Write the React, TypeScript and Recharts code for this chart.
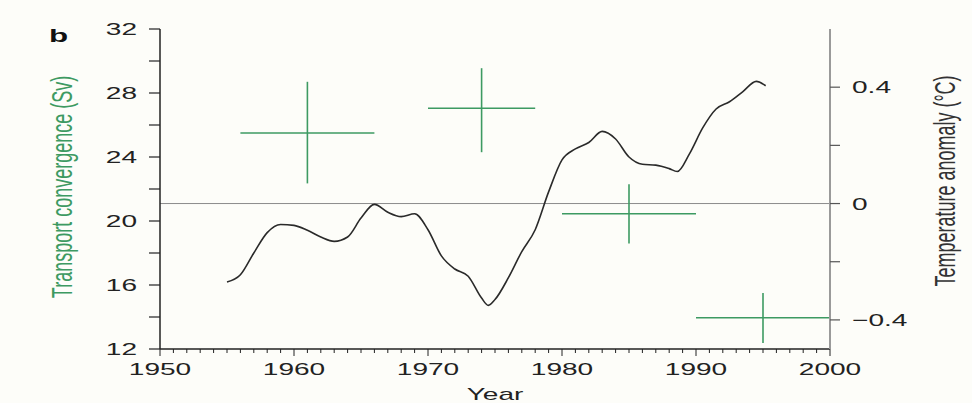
import {
  ComposedChart,
  ErrorBar,
  Line,
  ReferenceLine,
  Scatter,
  XAxis,
  YAxis,
} from "recharts";

// smoothed temperature anomaly (°C), right axis
const years = [
  1955, 1956, 1957, 1958, 1959, 1960, 1961, 1962, 1963, 1964, 1965, 1966, 1967, 1968, 1969, 1970,
  1971, 1972, 1973, 1974, 1974.5, 1975, 1976, 1977, 1978, 1979, 1980, 1981, 1982, 1983, 1984, 1985,
  1986, 1987, 1988, 1988.6, 1989.5, 1990.5, 1991.5, 1992.5, 1993.5, 1994.5, 1995.2,
];
const anomaly = [
  -0.27, -0.245, -0.17, -0.1, -0.072, -0.075, -0.092, -0.115, -0.13, -0.115, -0.05, -0.003, -0.03,
  -0.045, -0.035, -0.09, -0.18, -0.225, -0.25, -0.325, -0.35, -0.33, -0.255, -0.165, -0.09, 0.04,
  0.15, 0.188, 0.21, 0.248, 0.222, 0.16, 0.135, 0.132, 0.12, 0.11, 0.17, 0.26, 0.325, 0.35, 0.385,
  0.42, 0.405,
];

// transport convergence estimates (Sv), left axis, drawn as crosses
const crossYear = [1961, 1974, 1985, 1995];
const crossTransport = [25.5, 27.05, 20.45, 13.95];
const crossYearMinus = [5, 4, 5, 5];
const crossYearPlus = [5, 4, 5, 5];
const crossTransportMinus = [3.15, 2.75, 1.85, 1.575];
const crossTransportPlus = [3.2, 2.5, 1.85, 1.55];

const decadeTicks = [1950, 1960, 1970, 1980, 1990, 2000];
const yearTicks = Array.from({ length: 51 }, (_, i) => 1950 + i);
const transportTicks = [12, 14, 16, 18, 20, 22, 24, 26, 28, 30, 32];
const transportLabels = [12, 16, 20, 24, 28, 32];
const anomalyTicks = [-0.4, -0.2, 0, 0.2, 0.4];
const anomalyLabels: Record<string, string> = { "-0.4": "\u22120.4", "0": "0", "0.4": "0.4" };

const lineData = years.map((year, i) => ({ year, anomaly: anomaly[i] }));
const crossData = crossYear.map((year, i) => ({
  year,
  transport: crossTransport[i],
  ex: [crossYearMinus[i], crossYearPlus[i]],
  ey: [crossTransportMinus[i], crossTransportPlus[i]],
}));

const FONT = "'Liberation Sans', Arial, sans-serif";
const STRETCH = 1.65;
const INK = "#222";
const GREEN = "#3d9a62";

function BottomTick({ x, y, payload }: any) {
  const v = payload.value;
  const major = decadeTicks.includes(v);
  return (
    <g>
      <line x1={x} x2={x} y1={y} y2={y + (major ? 7 : 4)} stroke={INK} strokeWidth={1} />
      {major && (
        <text
          transform={`translate(${x},${y + 26}) scale(${STRETCH},1)`}
          textAnchor="middle"
          fontSize={17}
          fontFamily={FONT}
          fill={INK}
        >
          {v}
        </text>
      )}
    </g>
  );
}

function TopTick({ x, y, payload }: any) {
  const major = decadeTicks.includes(payload.value);
  return <line x1={x} x2={x} y1={y} y2={y - (major ? 6 : 3)} stroke={INK} strokeWidth={1} />;
}

function LeftTick({ x, y, payload }: any) {
  const v = payload.value;
  return (
    <g>
      <line x1={x - 11} x2={x} y1={y} y2={y} stroke={INK} strokeWidth={1.2} />
      {transportLabels.includes(v) && (
        <text
          transform={`translate(${x - 23},${y + 6}) scale(${STRETCH},1)`}
          textAnchor="end"
          fontSize={17}
          fontFamily={FONT}
          fill={INK}
        >
          {v}
        </text>
      )}
    </g>
  );
}

function RightTick({ x, y, payload }: any) {
  const key = String(Math.round(payload.value * 10) / 10);
  const label = anomalyLabels[key];
  return (
    <g>
      <line x1={x} x2={x + 10} y1={y} y2={y} stroke="#555" strokeWidth={1.2} />
      {label && (
        <text
          transform={`translate(${x + 22},${y + 6}) scale(${STRETCH},1)`}
          textAnchor="start"
          fontSize={17}
          fontFamily={FONT}
          fill={INK}
        >
          {label}
        </text>
      )}
    </g>
  );
}

export default function App() {
  return (
    <div
      style={{
        position: "absolute",
        left: 0,
        top: 0,
        width: 972,
        height: 403,
        background: "#fdfdf9",
        overflow: "hidden",
      }}
    >
      <ComposedChart width={972} height={403} margin={{ top: 29, right: 0, bottom: 0, left: 0 }}>
        <XAxis
          xAxisId="top"
          orientation="top"
          type="number"
          dataKey="year"
          domain={[1950, 2000]}
          allowDataOverflow
          ticks={yearTicks}
          interval={0}
          height={0}
          tickSize={0}
          tickMargin={0}
          tickLine={false}
          tick={<TopTick />}
          axisLine={{ stroke: INK, strokeWidth: 1.5 }}
        />
        <XAxis
          xAxisId="main"
          type="number"
          dataKey="year"
          domain={[1950, 2000]}
          allowDataOverflow
          ticks={yearTicks}
          interval={0}
          height={54}
          tickSize={0}
          tickMargin={0}
          tickLine={false}
          tick={<BottomTick />}
          axisLine={{ stroke: INK, strokeWidth: 1.5 }}
          label={{
            content: ({ viewBox }: any) => (
              <text
                transform={`translate(${viewBox.x + viewBox.width / 2},400) scale(${STRETCH},1)`}
                textAnchor="middle"
                fontSize={17}
                fontFamily={FONT}
                fill={INK}
              >
                Year
              </text>
            ),
          }}
        />
        <YAxis
          yAxisId="left"
          orientation="left"
          type="number"
          domain={[12, 32]}
          allowDataOverflow
          ticks={transportTicks}
          interval={0}
          width={160}
          tickSize={0}
          tickMargin={0}
          tickLine={false}
          tick={<LeftTick />}
          axisLine={{ stroke: INK, strokeWidth: 1.5 }}
          label={{
            content: () => (
              <g>
                <text
                  transform={`translate(49,42) scale(${STRETCH},1)`}
                  fontSize={19}
                  fontWeight="bold"
                  fontFamily={FONT}
                  fill="#111"
                >
                  b
                </text>
                <text
                  transform={`translate(72,187) scale(${STRETCH},1) rotate(-90)`}
                  textAnchor="middle"
                  fontSize={18}
                  fontFamily={FONT}
                  fill={GREEN}
                >
                  Transport convergence (Sv)
                </text>
              </g>
            ),
          }}
        />
        <YAxis
          yAxisId="right"
          orientation="right"
          type="number"
          domain={[-0.5, 0.6]}
          allowDataOverflow
          ticks={anomalyTicks}
          interval={0}
          width={142}
          tickSize={0}
          tickMargin={0}
          tickLine={false}
          tick={<RightTick />}
          axisLine={{ stroke: "#9a9a9a", strokeWidth: 2 }}
          label={{
            content: () => (
              <text
                transform={`translate(955,181) scale(${STRETCH},1) rotate(-90)`}
                textAnchor="middle"
                fontSize={18}
                fontFamily={FONT}
                fill="#333"
              >
                Temperature anomaly (°C)
              </text>
            ),
          }}
        />
        <ReferenceLine xAxisId="main" yAxisId="right" y={0} stroke="#8c8c8c" strokeWidth={1} />
        <Scatter
          xAxisId="main"
          yAxisId="left"
          data={crossData}
          dataKey="transport"
          isAnimationActive={false}
          shape={() => <g />}
        >
          <ErrorBar dataKey="ex" direction="x" width={0} stroke={GREEN} strokeWidth={1.6} />
          <ErrorBar dataKey="ey" direction="y" width={0} stroke={GREEN} strokeWidth={1.6} />
        </Scatter>
        <Line
          xAxisId="main"
          yAxisId="right"
          data={lineData}
          dataKey="anomaly"
          type="monotone"
          stroke="#2a2a2a"
          strokeWidth={1.6}
          dot={false}
          isAnimationActive={false}
        />
      </ComposedChart>
    </div>
  );
}
